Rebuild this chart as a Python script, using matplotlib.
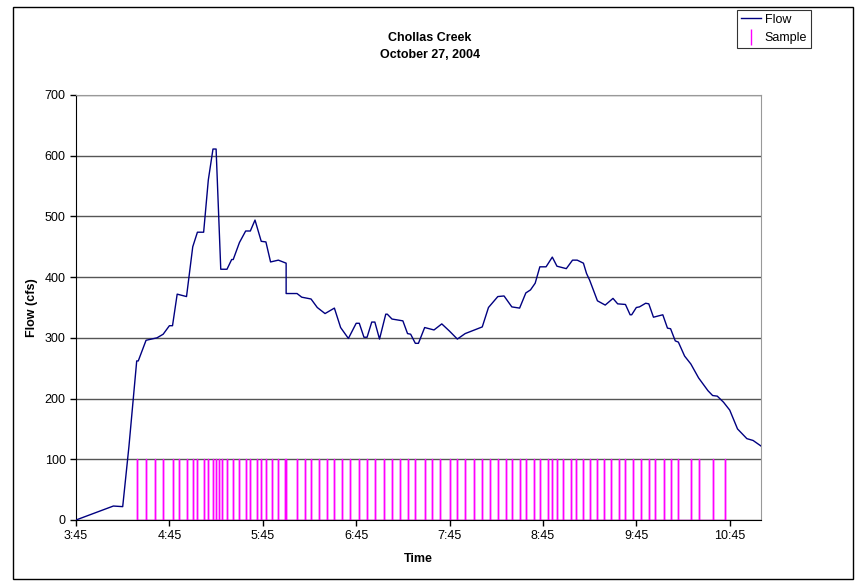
import matplotlib

matplotlib.use("Agg")

import matplotlib.dates as mdates
import matplotlib.pyplot as plt
import pandas as pd
from matplotlib.lines import Line2D

DAY = "2004-10-27 "

flow_times = [
    "3:45", "4:09", "4:15", "4:19", "4:24", "4:25", "4:30", "4:37", "4:41", "4:45",
    "4:47", "4:50", "4:56", "5:00", "5:03", "5:07", "5:10", "5:13", "5:15", "5:18",
    "5:22", "5:25", "5:26", "5:30", "5:34", "5:37", "5:40", "5:44", "5:47", "5:50",
    "5:55", "6:00", "6:00", "6:07", "6:10", "6:16", "6:20", "6:25", "6:31", "6:35",
    "6:40", "6:45", "6:47", "6:50", "6:52", "6:55", "6:57", "7:00", "7:04", "7:05",
    "7:08", "7:15", "7:18", "7:20", "7:23", "7:25", "7:29", "7:35", "7:40", "7:45",
    "7:50", "7:55", "8:01", "8:06", "8:10", "8:16", "8:20", "8:25", "8:30", "8:34",
    "8:37", "8:40", "8:43", "8:47", "8:51", "8:54", "9:00", "9:04", "9:07", "9:11",
    "9:13", "9:15", "9:20", "9:25", "9:30", "9:33", "9:38", "9:41", "9:42", "9:45",
    "9:47", "9:51", "9:53", "9:56", "10:02", "10:05", "10:07", "10:10", "10:12", "10:16",
    "10:20", "10:25", "10:31", "10:34", "10:37", "10:41", "10:45", "10:50", "10:56", "11:00",
    "11:05",
]
flow_cfs = [
    0, 23, 22, 121, 262, 262, 296, 300, 306, 320,
    320, 372, 368, 450, 474, 474, 560, 611, 611, 413,
    413, 429, 429, 457, 476, 476, 494, 459, 458, 425,
    428, 423, 373, 373, 367, 364, 350, 340, 349, 317,
    299, 324, 324, 301, 301, 326, 326, 298, 339, 339,
    331, 328, 307, 306, 291, 291, 317, 313, 323, 311,
    298, 307, 313, 318, 350, 368, 369, 351, 349, 374,
    379, 390, 417, 417, 433, 418, 414, 428, 428, 423,
    406, 395, 361, 354, 365, 356, 355, 338, 338, 350,
    351, 357, 356, 334, 338, 316, 315, 295, 293, 270,
    257, 234, 213, 205, 204, 194, 181, 150, 134, 131,
    122,
]

sample_times = [
    "4:24", "4:30", "4:36", "4:41", "4:47", "4:51", "4:56", "5:00", "5:03", "5:07",
    "5:10", "5:13", "5:15", "5:17", "5:19", "5:22", "5:26", "5:30", "5:34", "5:37",
    "5:41", "5:44", "5:47", "5:51", "5:55", "5:59", "6:00", "6:07", "6:12", "6:16",
    "6:21", "6:26", "6:31", "6:36", "6:41", "6:47", "6:52", "6:57", "7:03", "7:08",
    "7:13", "7:18", "7:23", "7:29", "7:34", "7:39", "7:45", "7:50", "7:55", "8:01",
    "8:06", "8:11", "8:16", "8:21", "8:25", "8:30", "8:34", "8:39", "8:43", "8:48",
    "8:51", "8:54", "8:58", "9:03", "9:06", "9:11", "9:15", "9:20", "9:24", "9:29",
    "9:34", "9:38", "9:43", "9:48", "9:53", "9:57", "10:03", "10:07", "10:12", "10:20",
    "10:25", "10:34", "10:42",
]
sample_level = 100

x_ticks = ["3:45", "4:45", "5:45", "6:45", "7:45", "8:45", "9:45", "10:45"]
x_start, x_end = "3:45", "11:05"


def to_time(values):
    return pd.to_datetime([DAY + v for v in values])


flow_t = to_time(flow_times)
samp_t = to_time(sample_times)

# each sample drawn as a spike 0 -> level -> 0, joined along the baseline
spike_t, spike_y = [], []
for t in samp_t:
    spike_t += [t, t, t]
    spike_y += [0, sample_level, 0]

plt.rcParams["font.family"] = ["Liberation Sans", "DejaVu Sans"]

fig = plt.figure(figsize=(8.55, 5.81), dpi=100)
axis = fig.add_axes([0.0889, 0.105, 0.801, 0.7315])

axis.plot(spike_t, spike_y, color="#FF00FF", linewidth=1, zorder=2)
axis.plot(flow_t, flow_cfs, color="#000080", linewidth=1, zorder=3)

axis.set_xlim(to_time([x_start])[0], to_time([x_end])[0])
axis.set_ylim(0, 700)
axis.set_yticks(range(0, 701, 100))
axis.set_xticks(to_time(x_ticks))
axis.xaxis.set_major_formatter(mdates.DateFormatter("%-H:%M"))
axis.grid(axis="y", color="#555555", linewidth=1, zorder=1)
axis.tick_params(labelsize=9, length=4, width=1, color="black")

for side in ("top", "right"):
    axis.spines[side].set_color("#999999")
for side in ("left", "bottom"):
    axis.spines[side].set_color("black")

axis.set_xlabel("Time", fontsize=9, fontweight="bold")
axis.set_ylabel("Flow (cfs)", fontsize=9, fontweight="bold")
axis.xaxis.set_label_coords(0.5, -0.077)
axis.yaxis.set_label_coords(-0.056, 0.5)
fig.text(0.503, 0.92, "Chollas Creek\nOctober 27, 2004", ha="center", va="center",
         fontsize=9, fontweight="bold", linespacing=1.45)

handles = [
    Line2D([], [], color="#000080", linewidth=1),
    Line2D([], [], color="#FF00FF", marker="|", linestyle="None", markersize=12),
]
legend = fig.legend(handles, ["Flow", "Sample"], loc="upper left",
                    bbox_to_anchor=(0.862, 0.983), fontsize=9, frameon=True,
                    fancybox=False, handlelength=1.6, borderpad=0.3,
                    borderaxespad=0, labelspacing=0.5, handletextpad=0.3)
legend.get_frame().set_edgecolor("black")
legend.get_frame().set_linewidth(0.8)

fig.patches.append(plt.Rectangle((0.0152, 0.0034), 0.9825, 0.9845, transform=fig.transFigure,
                                 fill=False, edgecolor="black", linewidth=1))

fig.savefig("out.png", dpi=100)
